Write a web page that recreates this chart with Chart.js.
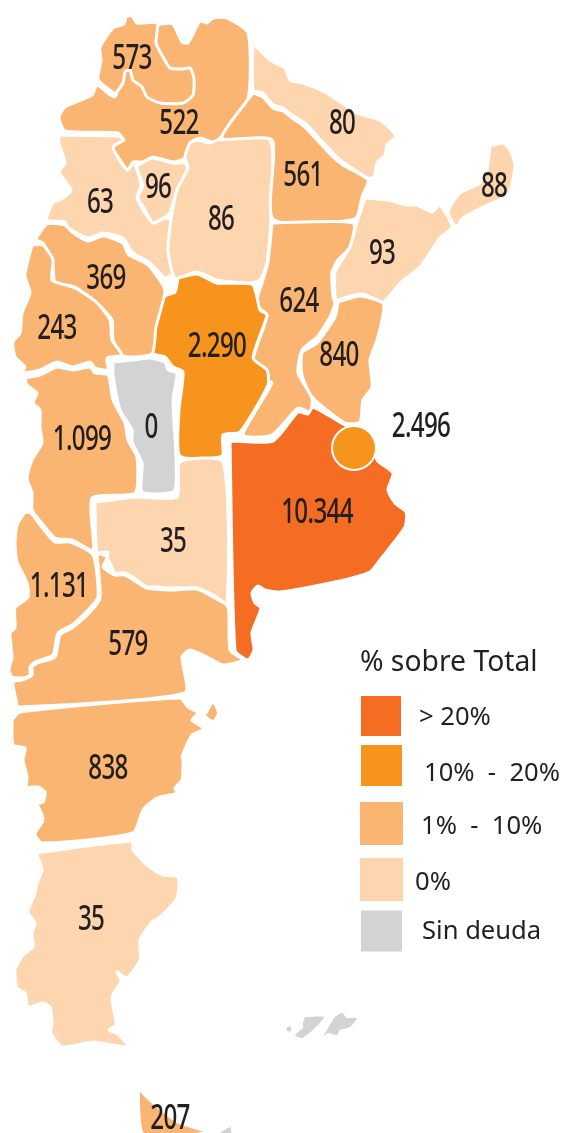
<!DOCTYPE html>
<html>
<head>
<meta charset="utf-8">
<title>% sobre Total</title>
<script src="https://cdn.jsdelivr.net/npm/chart.js@4/dist/chart.umd.min.js"></script>
<style>
html, body { margin: 0; padding: 0; background: #fff; }
canvas { display: block; }
</style>
</head>
<body>
<canvas id="mapa" width="567" height="1133"></canvas>
<script>
// province outlines
const salta = [[160,24],[173,24],[182,42],[188,43],[200,21],[207,23],[213,18],[227,18],[248,33],[248,98],[220,138],[213,142],[200,138],[190,143],[185,158],[173,162],[153,157],[143,162],[133,162],[128,170],[122,163],[113,150],[115,145],[123,140],[118,133],[65,131],[59,117],[65,107],[92,95],[97,85],[115,97],[125,60],[160,24]];
const jujuy = [[126,16],[132,16],[137,23],[157,23],[156,43],[163,57],[170,68],[182,69],[190,68],[194,78],[193,95],[183,103],[160,103],[147,97],[142,87],[133,80],[130,70],[125,72],[123,83],[115,93],[107,88],[98,79],[101,60],[100,47],[113,28],[124,24],[126,16]];
const catamarca = [[59,135],[118,136],[124,140],[113,147],[127,170],[134,163],[141,185],[137,197],[143,210],[153,223],[165,218],[171,220],[170,237],[168,250],[173,273],[165,278],[150,263],[132,252],[123,238],[103,233],[88,238],[68,228],[65,222],[47,220],[53,202],[60,200],[71,190],[59,172],[65,163],[59,143],[59,135]];
const tucuman = [[147,160],[153,158],[173,163],[185,163],[187,170],[177,190],[170,213],[165,217],[153,223],[145,210],[138,197],[143,185],[137,167],[147,160]];
const santiago = [[197,140],[210,143],[218,140],[270,140],[271,217],[267,263],[260,280],[250,283],[217,280],[197,272],[175,278],[168,250],[171,220],[177,190],[188,168],[185,157],[190,143],[197,140]];
const formosa = [[253,43],[270,60],[285,68],[290,80],[303,83],[325,92],[357,113],[380,120],[396,136],[387,145],[385,155],[377,163],[374,177],[368,178],[343,162],[333,153],[318,137],[305,123],[292,115],[283,108],[273,105],[263,93],[253,90],[253,43]];
const chaco = [[253,93],[263,97],[273,108],[283,111],[292,118],[305,127],[317,140],[333,157],[343,165],[368,180],[362,197],[355,219],[273,219],[272,140],[222,138],[253,93]];
const santaFe = [[272,223],[353,223],[350,247],[338,260],[332,272],[333,297],[335,303],[330,317],[317,337],[302,350],[298,373],[312,398],[310,412],[298,408],[272,435],[243,435],[272,383],[265,380],[263,370],[253,360],[267,315],[256,305],[263,280],[268,262],[272,223]];
const corrientes = [[365,198],[388,200],[407,205],[417,205],[432,212],[440,205],[452,227],[440,238],[420,267],[400,283],[383,302],[363,294],[347,297],[336,300],[335,272],[342,260],[350,247],[357,222],[365,198]];
const misiones = [[490,146],[503,143],[510,150],[515,165],[508,195],[483,207],[463,218],[456,227],[448,212],[460,193],[480,183],[487,170],[490,146]];
const entreRios = [[338,302],[360,296],[383,303],[383,315],[377,340],[370,360],[372,387],[363,400],[360,422],[345,423],[312,397],[302,375],[302,353],[317,343],[335,317],[338,302]];
const buenosAires = [[230,441],[273,441],[298,412],[308,414],[313,407],[345,425],[375,440],[377,460],[393,473],[388,490],[395,503],[406,512],[405,527],[380,560],[370,572],[330,583],[280,592],[265,590],[258,586],[252,593],[255,603],[261,608],[252,633],[254,650],[248,660],[235,650],[230,441]];
const cordoba = [[178,278],[197,274],[217,283],[252,284],[257,297],[260,310],[267,315],[253,358],[267,370],[268,385],[240,432],[223,435],[222,456],[180,456],[179,410],[183,372],[173,367],[165,357],[152,353],[155,330],[163,297],[175,292],[178,278]];
const sanLuis = [[113,362],[133,360],[150,358],[165,362],[168,370],[177,373],[173,400],[175,490],[142,492],[142,463],[132,442],[132,430],[120,410],[113,375],[113,362]];
const laRioja = [[35,240],[47,224],[65,225],[72,232],[88,241],[103,236],[123,243],[128,254],[148,265],[163,285],[165,293],[156,327],[152,354],[123,356],[113,340],[112,320],[97,303],[75,287],[55,282],[53,265],[43,243],[35,240]];
const sanJuan = [[32,245],[43,245],[53,260],[52,280],[75,288],[97,303],[110,320],[112,340],[122,355],[107,358],[108,370],[95,368],[90,362],[73,367],[57,362],[40,370],[22,373],[25,367],[15,357],[13,342],[20,333],[22,313],[30,293],[25,275],[32,245]];
const mendoza = [[25,378],[40,375],[57,367],[73,370],[90,367],[95,373],[108,375],[113,400],[125,423],[128,440],[137,457],[135,493],[92,498],[93,550],[72,540],[55,538],[40,521],[32,510],[32,493],[27,478],[32,460],[42,443],[40,427],[40,410],[33,403],[37,393],[27,385],[25,378]];
const laPampa = [[95,502],[137,497],[177,497],[180,462],[223,462],[227,603],[213,595],[197,588],[173,588],[158,587],[147,587],[137,580],[125,573],[115,573],[110,563],[107,558],[108,552],[97,552],[95,502]];
const neuquen = [[25,512],[31,513],[40,525],[55,542],[70,542],[93,555],[98,597],[88,610],[72,625],[58,633],[53,655],[35,662],[30,667],[30,675],[23,678],[12,677],[9,670],[12,657],[10,633],[15,628],[15,608],[28,597],[27,583],[17,562],[15,543],[17,525],[25,512]];
const rioNegro = [[97,553],[107,557],[103,567],[115,575],[125,575],[147,588],[173,590],[197,589],[213,597],[228,607],[230,650],[243,660],[223,665],[207,657],[190,650],[182,657],[185,693],[18,707],[16,700],[13,682],[22,680],[32,675],[32,667],[37,663],[55,657],[60,635],[72,628],[90,612],[100,598],[97,553]];
const chubut = [[12,720],[20,712],[180,698],[188,707],[198,713],[192,720],[204,729],[192,735],[182,757],[183,760],[182,780],[175,788],[177,793],[157,798],[143,810],[133,833],[42,843],[35,834],[43,820],[37,805],[27,805],[43,802],[45,792],[38,787],[27,787],[27,777],[23,760],[25,748],[13,745],[12,720]];
const valdes = [[208,713],[213,704],[217,713],[213,720],[206,715],[208,713]];
const santaCruz = [[36,853],[132,841],[133,850],[147,865],[163,875],[178,877],[177,898],[160,917],[152,922],[140,940],[140,960],[127,978],[117,972],[121,981],[112,997],[116,1025],[109,1030],[118,1034],[128,1047],[93,1042],[62,1047],[51,1033],[52,1023],[50,1007],[43,1003],[28,1007],[25,993],[17,988],[15,970],[23,955],[33,947],[32,933],[35,923],[28,912],[35,893],[37,883],[42,870],[36,853]];
const tierraDelFuego = [[138,1088],[150,1100],[178,1122],[205,1131],[200,1134],[143,1134],[138,1088]];
const malvinasEste = [[323,1037],[327,1030],[335,1017],[342,1013],[347,1018],[357,1018],[350,1027],[340,1030],[337,1035],[328,1033],[323,1037]];
const malvinasOeste = [[305,1017],[324,1017],[315,1028],[302,1038],[295,1035],[303,1028],[303,1023],[305,1017]];
const antartida = [[218,1134],[230,1127],[231,1134],[218,1134]];

// debt per district, as printed on the map
const valueLabels = ['573','522','80','561','96','88','63','86','93','369','624','243','2.290','840','2.496','0','1.099','10.344','35','1.131','579','838','35','207'];
const valueX = [132,179,342,303,158,494,100,221,382,106,299,57,217,339,421,151,82,317,173,59,128,108,91,170];
const valueY = [57,122,122,174,186,185,201,218,252,277,300,327,345,354,425,426,438,511,540,585,643,767,918,1117];

const caba = [[354,448]];
const malvinasPunto = [[289,1029]];

// legend
const legendTitle = '% sobre Total';
const legendLabels = ['> 20%','10%  -  20%','1%  -  10%','0%','Sin deuda'];
const legendTextX = [419,424,421,415,422];
const legendTextY = [716,772,825,881,930];
const legendSwatchX = [381,381.5,381.5,381.5,381.5];
const legendSwatchY = [716,765.5,823.5,879.5,931];

const ROJO = '#F56D22', NARANJA = '#F7941E', MEDIO = '#FBB573', CLARO = '#FDD6B0', GRIS = '#D1D3D4';
const legendColors = [ROJO, NARANJA, MEDIO, CLARO, GRIS];
const legendSizes = [40,41,43,43,41];

function pts(list) {
    return list.map(function (p) { return {x: p[0], y: p[1]}; });
}

function region(outline, color) {
    return {
        data: pts(outline),
        showLine: true,
        fill: 'shape',
        backgroundColor: color,
        borderColor: '#fff',
        borderWidth: 3,
        borderJoinStyle: 'round',
        tension: 0.2,
        pointRadius: 0
    };
}

var datasets = [
    region(salta, MEDIO), region(jujuy, MEDIO), region(catamarca, CLARO),
    region(tucuman, CLARO), region(santiago, CLARO), region(formosa, CLARO),
    region(chaco, MEDIO), region(santaFe, MEDIO), region(corrientes, CLARO),
    region(misiones, CLARO), region(entreRios, MEDIO), region(buenosAires, ROJO),
    region(cordoba, NARANJA), region(sanLuis, GRIS), region(laRioja, MEDIO),
    region(sanJuan, MEDIO), region(mendoza, MEDIO), region(laPampa, CLARO),
    region(neuquen, MEDIO), region(rioNegro, MEDIO), region(chubut, MEDIO),
    region(valdes, MEDIO), region(santaCruz, CLARO), region(tierraDelFuego, MEDIO),
    region(malvinasEste, GRIS), region(malvinasOeste, GRIS), region(antartida, GRIS)
];

// thin outline only for the tiny shapes
[21, 24, 25, 26].forEach(function (i) { datasets[i].borderWidth = 0; });

datasets.push({
    data: pts(caba), pointRadius: 22, pointBackgroundColor: NARANJA,
    pointBorderColor: '#fff', pointBorderWidth: 2
});
datasets.push({
    data: pts(malvinasPunto), pointRadius: 2.5, pointBackgroundColor: GRIS, pointBorderWidth: 0
});
legendColors.forEach(function (c, i) {
    datasets.push({
        data: [{x: legendSwatchX[i], y: legendSwatchY[i]}],
        pointStyle: 'rect',
        pointRadius: legendSizes[i] / Math.SQRT2,
        pointBackgroundColor: c,
        pointBorderWidth: 0
    });
});
// later datasets go on top
datasets.forEach(function (d, i) { d.order = -i; });

var textos = {
    id: 'textos',
    afterDatasetsDraw: function (chart) {
        var ctx = chart.ctx, sx = chart.scales.x, sy = chart.scales.y;
        ctx.save();
        ctx.fillStyle = '#231F20';
        ctx.textBaseline = 'middle';

        // numbers are narrow in the original, so squeeze them
        ctx.textAlign = 'center';
        ctx.font = '500 35px "Noto Sans"';
        ctx.letterSpacing = '-1px';
        valueLabels.forEach(function (t, i) {
            ctx.save();
            ctx.translate(sx.getPixelForValue(valueX[i]), sy.getPixelForValue(valueY[i]) + 2);
            ctx.scale(0.69, 1);
            ctx.fillText(t, 0, 0);
            ctx.restore();
        });

        ctx.letterSpacing = '0px';
        ctx.textAlign = 'left';
        ctx.font = '28.3px "Noto Sans"';
        ctx.fillText(legendTitle, sx.getPixelForValue(360), sy.getPixelForValue(661) + 2);
        ctx.font = '25.6px "Noto Sans"';
        legendLabels.forEach(function (t, i) {
            ctx.fillText(t, sx.getPixelForValue(legendTextX[i]), sy.getPixelForValue(legendTextY[i]) + 2);
        });
        ctx.restore();
    }
};

new Chart(document.getElementById('mapa'), {
    type: 'scatter',
    data: {datasets: datasets},
    plugins: [textos],
    options: {
        responsive: false,
        animation: false,
        layout: {padding: 0, autoPadding: false},
        plugins: {legend: {display: false}, tooltip: {enabled: false}},
        scales: {
            x: {type: 'linear', display: false, min: 0, max: 567},
            y: {type: 'linear', display: false, min: 0, max: 1133, reverse: true}
        }
    }
});
</script>
</body>
</html>
